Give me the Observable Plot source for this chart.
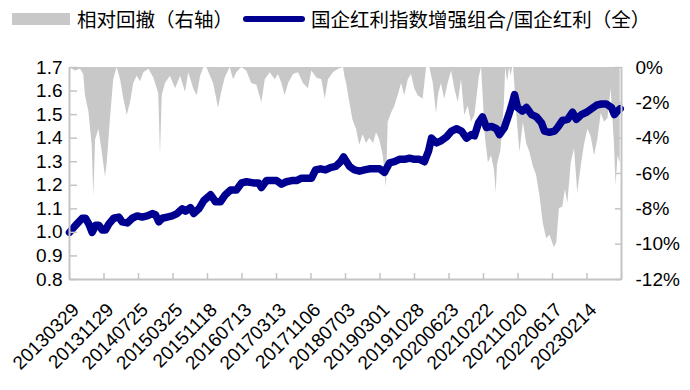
<!DOCTYPE html>
<html>
<head>
<meta charset="utf-8">
<script src="https://cdn.jsdelivr.net/npm/d3@7"></script>
<script src="https://cdn.jsdelivr.net/npm/@observablehq/plot@0.6"></script>
<style>
  html, body { margin: 0; padding: 0; background: #fff; }
  #wrap { position: relative; width: 690px; height: 390px; overflow: hidden; }
  #legend { position: relative; height: 38px; width: 690px; font-family: "Noto Sans CJK SC", sans-serif; font-size: 19.5px; color: #000; }
  #legend .sw1 { position: absolute; left: 12px; top: 13px; width: 58px; height: 12px; background: #c8c8c8; }
  #legend .t1 { position: absolute; left: 77px; top: 5px; line-height: 28px; white-space: nowrap; }
  #legend .sw2 { position: absolute; left: 243px; top: 16px; width: 62px; height: 6px; border-radius: 3px; background: #000090; }
  #legend .t2 { position: absolute; left: 311px; top: 5px; line-height: 28px; white-space: nowrap; }
</style>
</head>
<body>
<div id="wrap">
  <div id="legend">
    <div class="sw1"></div><div class="t1">相对回撤（右轴）</div>
    <div class="sw2"></div><div class="t2">国企红利指数增强组合/国企红利（全）</div>
  </div>
  <div id="chart"></div>
</div>
<script>
// x-axis: trading-day index; labels every 160 trading days
const tickLabels = ["20130329","20131129","20140725","20150325","20151118","20160713","20170313","20171106",
  "20180703","20190301","20191028","20200623","20210222","20211020","20220617","20230214"];
const labelStartDay = 52;
const labelStep = 160;
const totalDays = 2560;

// ratio line (left axis)
const lineDays = [
  0,28,59,74,90,105,121,136,152,167,
  182,205,229,244,268,291,314,337,360,384,
  399,414,430,453,476,499,523,538,561,576,
  600,623,654,677,700,723,747,774,798,821,
  853,877,890,914,937,960,983,1006,1030,1053,
  1076,1099,1122,1141,1164,1187,1210,1234,1257,1271,
  1285,1299,1322,1345,1368,1391,1415,1438,1461,1484,
  1507,1530,1554,1577,1600,1623,1646,1665,1679,1702,
  1725,1748,1772,1795,1818,1841,1864,1878,1897,1915,
  1934,1957,1980,1994,2017,2041,2054,2064,2078,2101,
  2119,2143,2166,2189,2203,2226,2249,2263,2286,2310,
  2333,2351,2374,2398,2421,2444,2467,2490,2514,2527,
  2541,2554];
const lineValues = [
  1.00,1.03,1.06,1.06,1.035,1.00,1.03,1.03,1.01,1.01,
  1.035,1.06,1.065,1.045,1.04,1.06,1.07,1.065,1.07,1.08,
  1.075,1.045,1.06,1.065,1.07,1.08,1.10,1.09,1.105,1.08,
  1.10,1.135,1.16,1.13,1.13,1.16,1.18,1.18,1.21,1.215,
  1.21,1.21,1.19,1.22,1.22,1.22,1.205,1.215,1.22,1.22,
  1.23,1.23,1.23,1.265,1.27,1.265,1.275,1.28,1.30,1.32,
  1.30,1.28,1.265,1.26,1.265,1.27,1.27,1.27,1.255,1.295,
  1.30,1.31,1.31,1.315,1.31,1.31,1.30,1.345,1.40,1.38,
  1.39,1.405,1.43,1.44,1.43,1.40,1.415,1.41,1.465,1.49,
  1.445,1.45,1.44,1.415,1.445,1.51,1.55,1.585,1.53,1.515,
  1.53,1.50,1.49,1.465,1.43,1.425,1.43,1.445,1.475,1.48,
  1.51,1.48,1.50,1.51,1.525,1.54,1.545,1.545,1.53,1.50,
  1.515,1.525];

// relative drawdown in % (right axis)
const ddDays = [
  0,28,51,66,74,90,105,113,121,136,
  152,167,175,190,205,221,237,252,268,283,
  298,314,329,345,368,391,407,414,422,430,
  445,468,492,515,538,553,576,592,608,623,
  637,668,683,691,706,722,745,761,776,799,
  822,845,869,892,908,931,954,969,985,1000,
  1016,1039,1062,1085,1108,1124,1147,1170,1186,1201,
  1224,1248,1271,1277,1285,1300,1315,1331,1346,1362,
  1377,1393,1410,1424,1439,1455,1470,1478,1493,1509,
  1524,1540,1555,1571,1586,1601,1617,1640,1656,1671,
  1687,1702,1712,1725,1740,1756,1772,1787,1803,1818,
  1833,1849,1864,1880,1887,1901,1911,1929,1943,1957,
  1971,1979,1985,2001,2017,2023,2032,2041,2048,2055,
  2060,2074,2089,2105,2120,2135,2151,2166,2182,2197,
  2213,2228,2249,2260,2272,2288,2300,2311,2327,2342,
  2357,2373,2388,2404,2419,2435,2450,2466,2481,2497,
  2512,2527,2535,2544,2554];
const ddValues = [
  0,-0.2,-0.1,-0.4,-1.6,-2.5,-4.4,-7.3,-4.1,-3.5,
  -4.8,-6.2,-5.4,-2.9,-0.7,0,-0.7,-1.8,-2.7,-2.0,
  -0.9,-0.5,-0.8,-0.3,-0.1,-0.6,-1.2,-1.5,-5.0,-1.6,
  -0.9,-0.5,-1.2,-0.5,-1.4,-0.3,-1.2,-1.6,-0.5,0,
  0,-0.9,-1.8,-2.3,-1.4,-0.6,0,-0.7,-0.3,0,
  -0.2,-0.9,-1.0,-2.0,-0.7,-0.3,-0.7,-0.4,-0.9,-1.6,
  -0.9,-0.4,-0.3,-0.9,-1.2,-0.2,-0.6,-0.7,-1.8,-0.7,
  -0.3,-0.1,0,-0.5,-0.9,-2.0,-3.0,-3.5,-4.4,-3.8,
  -4.3,-4.0,-4.3,-3.7,-4.1,-5.0,-6.8,-3.1,-2.6,-2.2,
  -1.6,-0.9,-1.6,-0.7,-0.4,-1.2,-1.6,-1.8,0,0,
  -0.9,-2.6,-1.5,-0.9,-1.8,-0.9,-0.2,-1.2,-2.0,-0.7,
  -2.7,-2.2,-3.1,-2.7,-2.0,-0.5,0,-4.0,-5.4,-5.0,
  -5.8,-7.1,-5.5,-4.7,-2.0,0,-0.8,0,-0.5,0,
  0,-2.6,-4.8,-3.1,-4.3,-4.8,-5.6,-6.1,-7.3,-8.8,
  -9.7,-9.5,-10.2,-9.9,-8.0,-7.9,-6.9,-7.7,-5.4,-4.6,
  -7.1,-5.6,-4.4,-3.5,-3.9,-5.0,-4.1,-2.6,-3.1,-2.9,
  -1.2,-4.3,-6.7,-5.0,-5.4];

const leftTicks = [0.8,0.9,1.0,1.1,1.2,1.3,1.4,1.5,1.6,1.7];
const rightTicks = [0,-2,-4,-6,-8,-10,-12];

// map right-axis % onto left-axis domain
const L_TOP = 1.7, L_BOT = 0.8, R_MIN = -12;
const toLeft = p => L_TOP + p * (L_TOP - L_BOT) / (-R_MIN);
const fromLeft = v => Math.round((v - L_TOP) * (-R_MIN) / (L_TOP - L_BOT));

const lineData = lineDays.map((d, i) => ({day: d, v: lineValues[i]}));
const ddData = ddDays.map((d, i) => ({day: d, dd: ddValues[i]}));
const labelData = tickLabels.map((t, i) => ({day: labelStartDay + i * labelStep, t}));
const tickDays = d3.range(0, totalDays + 1, labelStep);

const axisGray = "#c4c4c4";

const chart = Plot.plot({
  width: 690,
  height: 352,
  marginLeft: 69,
  marginRight: 69,
  marginTop: 29,
  marginBottom: 111,
  x: {domain: [0, totalDays], label: null},
  y: {domain: [L_BOT, L_TOP], label: null},
  style: {fontFamily: "'Liberation Sans', Arial, sans-serif", fontSize: "19px", color: "#000", background: "#fff", overflow: "visible"},
  marks: [
    Plot.areaY(ddData, {x: "day", y1: () => L_TOP, y2: d => toLeft(d.dd), fill: "#c8c8c8", curve: "linear"}),
    Plot.line(lineData, {x: "day", y: "v", stroke: "#000090", strokeWidth: 7.5, strokeLinejoin: "round", strokeLinecap: "round"}),
    Plot.ruleY([L_BOT], {stroke: axisGray, strokeWidth: 2}),
    Plot.ruleX([0, totalDays], {stroke: axisGray, strokeWidth: 2}),
    // left axis labels and inward ticks
    Plot.axisY({anchor: "left", ticks: leftTicks, tickFormat: d3.format(".1f"), tickSize: 0, tickPadding: 7, fontSize: 19}),
    Plot.axisY({anchor: "right", frameAnchor: "left", ticks: leftTicks, tickSize: 7, fill: "none", stroke: axisGray, strokeWidth: 1.5}),
    // right axis labels and inward ticks
    Plot.axisY({anchor: "right", ticks: rightTicks.map(toLeft), tickFormat: v => fromLeft(v) + "%", tickSize: 0, tickPadding: 14, fontSize: 19}),
    Plot.axisY({anchor: "left", frameAnchor: "right", ticks: rightTicks.map(toLeft), tickSize: 6, fill: "none", stroke: axisGray, strokeWidth: 1.5}),
    // bottom ticks pointing up
    Plot.axisX({anchor: "top", frameAnchor: "bottom", ticks: tickDays, tickSize: 7, fill: "none", stroke: axisGray, strokeWidth: 1.5}),
    // rotated date labels
    Plot.text(labelData, {x: "day", frameAnchor: "bottom", text: "t", rotate: -45, textAnchor: "end", lineAnchor: "top", dx: -10, dy: 22, fontSize: 19, fill: "#000"})
  ]
});
document.getElementById("chart").appendChild(chart);
</script>
</body>
</html>
